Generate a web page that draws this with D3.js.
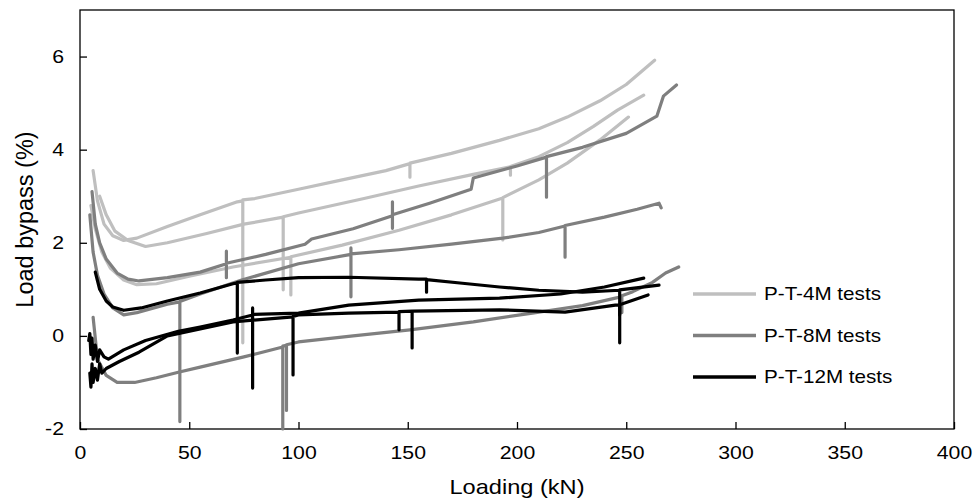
<!DOCTYPE html>
<html>
<head>
<meta charset="utf-8">
<script src="https://cdn.jsdelivr.net/npm/d3@7"></script>
<style>
  body { margin: 0; background: #fff; }
  svg { font-family: "Liberation Sans", Arial, sans-serif; }
  .axis path, .axis line { stroke: #000; stroke-width: 1.3; }
  .axis text { font-size: 18px; fill: #000; }
</style>
</head>
<body>
<div id="chart"></div>
<script>
// ---------------------------------------------------------------------------
// Load bypass vs loading, three specimen groups
// each entry is [loading kN, load bypass %]; repeated x = vertical spike
// ---------------------------------------------------------------------------

const xTicks = [0, 50, 100, 150, 200, 250, 300, 350, 400];
const yTicks = [-2, 0, 2, 4, 6];

// P-T-4M tests (light grey)
const test4M_a = [[6, 3.55], [8, 2.9], [11, 2.4], [15, 2.15], [20, 2.05], [26, 2.1], [40, 2.35], [55, 2.6],
  [72, 2.88], [74.5, 2.9], [74.5, -0.15], [74.5, 2.92], [80, 2.95], [100, 3.15], [120, 3.35], [140, 3.55],
  [151, 3.7], [151, 3.41], [151, 3.71], [170, 3.92], [192, 4.2], [210, 4.45], [223, 4.7], [238, 5.05],
  [250, 5.4], [263, 5.92]];
const test4M_b = [[9, 3.0], [12, 2.6], [16, 2.25], [22, 2.05], [30, 1.92], [40, 2.0], [58, 2.2], [75, 2.4],
  [93, 2.55], [93, 0.99], [93, 2.56], [100, 2.64], [130, 2.95], [155, 3.22], [180, 3.47], [197, 3.63],
  [197, 3.45], [197, 3.64], [210, 3.85], [223, 4.15], [235, 4.5], [246, 4.85], [258, 5.17]];
const test4M_c = [[5, 2.8], [7, 2.3], [10, 1.8], [14, 1.45], [20, 1.2], [26, 1.1], [35, 1.12], [50, 1.28],
  [70, 1.48], [96.5, 1.69], [96.5, 0.88], [96.5, 1.7], [120, 1.95], [146, 2.27], [170, 2.6], [193.5, 2.96],
  [193.5, 2.06], [193.5, 2.97], [210, 3.35], [223, 3.71], [238, 4.21], [251, 4.7]];

// P-T-8M tests (mid grey)
const test8M_a = [[5.5, 3.1], [7, 2.4], [9, 2.0], [12, 1.65], [17, 1.35], [22, 1.22], [27, 1.18], [40, 1.25],
  [55, 1.37], [67, 1.55], [67, 1.82], [67, 1.25], [67, 1.56], [85, 1.75], [103, 1.97], [106, 2.08],
  [125, 2.3], [143, 2.58], [143, 2.88], [143, 2.31], [143, 2.6], [160, 2.85], [179, 3.15], [180, 3.39],
  [200, 3.65], [213.5, 3.84], [213.5, 2.98], [213.5, 3.85], [230, 4.05], [250, 4.35], [264, 4.72],
  [267, 5.15], [273, 5.39]];
const test8M_b = [[4.5, 2.6], [6, 1.8], [8, 1.3], [11, 0.9], [15, 0.6], [20, 0.45], [26, 0.5], [40, 0.68],
  [45.7, 0.73], [45.7, -1.84], [45.7, 0.74], [55, 0.9], [74, 1.2], [100, 1.55], [124, 1.75], [124, 1.89],
  [124, 0.84], [124, 1.76], [146, 1.85], [170, 1.97], [193.5, 2.1], [210, 2.22], [222, 2.36], [222, 1.69],
  [222, 2.37], [240, 2.55], [255, 2.72], [265, 2.85], [266, 2.75]];
const test8M_c = [[6, 0.4], [8, -0.5], [12, -0.85], [17, -1.0], [25, -1.0], [35, -0.9], [45, -0.78],
  [55, -0.67], [75, -0.45], [92.8, -0.24], [92.8, -2.0], [92.8, -0.22], [94.5, -0.2], [94.5, -1.6],
  [94.5, -0.19], [100, -0.13], [125, 0.0], [151, 0.13], [180, 0.3], [207, 0.49], [230, 0.65], [245, 0.81],
  [248, 0.84], [248, 0.5], [248, 0.86], [253, 0.95], [262, 1.15], [268, 1.35], [274, 1.48]];

// P-T-12M tests (black)
const test12M_a = [[7, 1.37], [9, 1.0], [12, 0.75], [15, 0.62], [20, 0.55], [28, 0.6], [40, 0.75],
  [55, 0.92], [70, 1.12], [72, 1.14], [72, -0.37], [72, 1.15], [85, 1.2], [100, 1.25], [123, 1.26],
  [155, 1.22], [158.6, 1.22], [158.6, 0.94], [158.6, 1.21], [175, 1.13], [192, 1.05], [210, 0.98],
  [230, 0.94], [247, 0.98], [247, -0.15], [247, 0.99], [265, 1.09]];
const test12M_b = [[4, -0.1], [4.5, 0.05], [5, -0.4], [5.5, -0.05], [6, -0.5], [7, -0.2], [8, -0.55],
  [9, -0.3], [11, -0.45], [13, -0.5], [20, -0.3], [30, -0.1], [45, 0.1], [55, 0.19], [70, 0.34],
  [79, 0.45], [79, 0.6], [79, -1.12], [79, 0.46], [100, 0.49], [123, 0.66], [155, 0.77], [192, 0.81],
  [220, 0.9], [240, 1.05], [258, 1.24]];
const test12M_c = [[4.5, -0.8], [5, -1.1], [5.5, -0.6], [6, -1.0], [7, -0.7], [8, -0.95], [9, -0.6],
  [10, -0.8], [12, -0.7], [18, -0.55], [27, -0.35], [40, 0.0], [55, 0.15], [70, 0.3], [97.5, 0.41],
  [97.5, -0.84], [97.5, 0.42], [100, 0.45], [123, 0.49], [146, 0.51], [146, 0.13], [146, 0.52],
  [152, 0.53], [152, -0.26], [152, 0.53], [192, 0.56], [222, 0.51], [245, 0.66], [247, 0.66],
  [247, 0.45], [247, 0.67], [260, 0.88]];

const groups = [
  { name: 'P-T-4M tests', color: '#bfbfbf', tests: [test4M_a, test4M_b, test4M_c] },
  { name: 'P-T-8M tests', color: '#7f7f7f', tests: [test8M_a, test8M_b, test8M_c] },
  { name: 'P-T-12M tests', color: '#000000', tests: [test12M_a, test12M_b, test12M_c] }
];

const width = 973;
const height = 500;
const margin = { top: 10, right: 19, bottom: 71, left: 80 };
const w = width - margin.left - margin.right;
const h = height - margin.top - margin.bottom;
const stretch = 1.18; // text in the source looks widened

const svg = d3.select('#chart').append('svg')
    .attr('width', width)
    .attr('height', height);

const g = svg.append('g')
    .attr('transform', `translate(${margin.left},${margin.top})`);

const xScale = d3.scaleLinear().domain([0, 400]).range([0, w]);
const yScale = d3.scaleLinear().domain([-2, 7]).range([h, 0]);

// Frame
g.append('rect')
    .attr('x', 0).attr('y', 0)
    .attr('width', w).attr('height', h)
    .attr('fill', 'none')
    .attr('stroke', '#000')
    .attr('stroke-width', 1.3);

// Axes, ticks point inward
g.append('g')
    .attr('class', 'axis')
    .attr('transform', `translate(0,${h})`)
    .call(d3.axisBottom(xScale).tickValues(xTicks).tickFormat(d => String(d))
        .tickSizeInner(-7).tickSizeOuter(0).tickPadding(17))
    .call(a => a.select('.domain').remove())
    .call(a => a.selectAll('text').attr('transform', `scale(${stretch},1)`));

g.append('g')
    .attr('class', 'axis')
    .call(d3.axisLeft(yScale).tickValues(yTicks).tickFormat(d => String(d))
        .tickSizeInner(-7).tickSizeOuter(0).tickPadding(0))
    .call(a => a.select('.domain').remove())
    .call(a => a.selectAll('text').attr('x', -16 / stretch).attr('transform', `scale(${stretch},1)`));

// Curves
const line = d3.line()
    .x(d => xScale(d[0]))
    .y(d => yScale(d[1]));

groups.forEach(grp => {
    grp.tests.forEach(t => {
        g.append('path')
            .datum(t)
            .attr('fill', 'none')
            .attr('stroke', grp.color)
            .attr('stroke-width', 3.2)
            .attr('stroke-linejoin', 'round')
            .attr('stroke-linecap', 'round')
            .attr('d', line);
    });
});

// Legend
const legend = svg.append('g').attr('transform', 'translate(693,294)');
groups.forEach((grp, i) => {
    const row = legend.append('g').attr('transform', `translate(0,${i * 41.5})`);
    row.append('line')
        .attr('x1', 0).attr('x2', 63)
        .attr('stroke', grp.color)
        .attr('stroke-width', 3.5);
    row.append('text')
        .attr('transform', `translate(71,6) scale(${stretch},1)`)
        .attr('font-size', 17.5)
        .text(grp.name);
});

// Axis titles
svg.append('text')
    .attr('transform', `translate(${margin.left + w / 2},494) scale(${stretch},1)`)
    .attr('text-anchor', 'middle')
    .attr('font-size', 20)
    .text('Loading (kN)');

svg.append('text')
    .attr('transform', `translate(33,${margin.top + h / 2}) rotate(-90)`)
    .attr('text-anchor', 'middle')
    .attr('font-size', 23.5)
    .text('Load bypass (%)');
</script>
</body>
</html>
